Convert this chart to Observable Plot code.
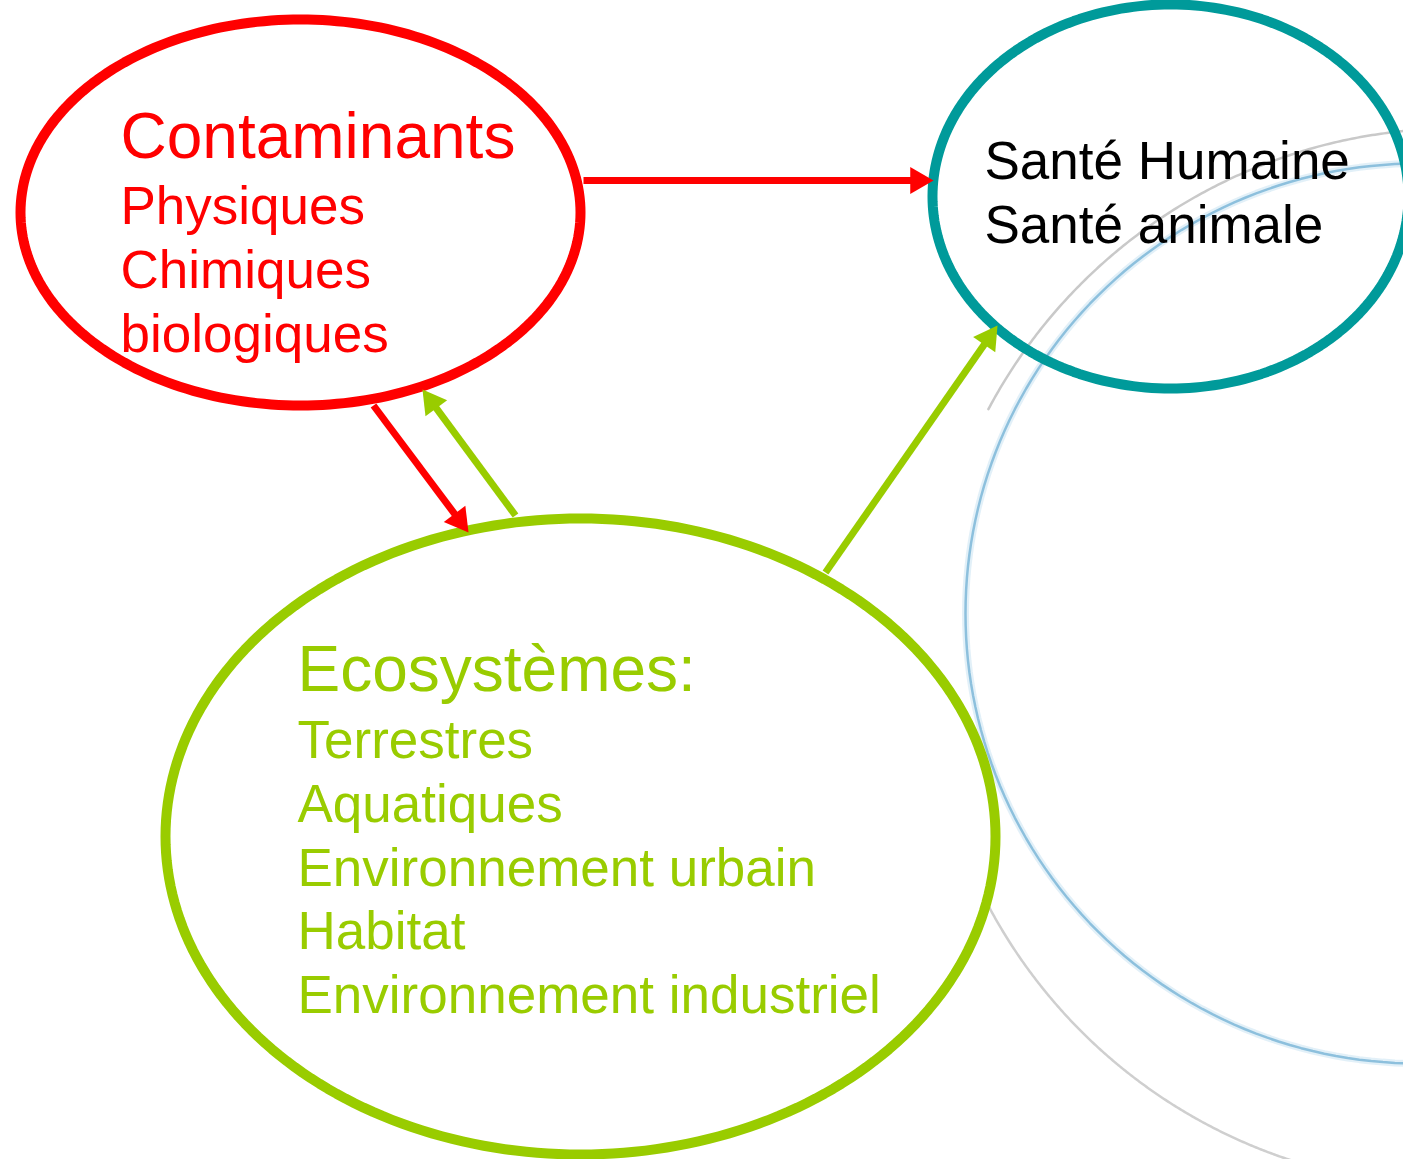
<!DOCTYPE html>
<html>
<head>
<meta charset="utf-8">
<script src="https://cdn.jsdelivr.net/npm/d3@7"></script>
<script src="https://cdn.jsdelivr.net/npm/@observablehq/plot@0.6"></script>
<style>
  html, body { margin: 0; padding: 0; background: #ffffff; }
  #chart svg { display: block; }
</style>
</head>
<body>
<div id="chart"></div>
<script>
// ---- Diagram content ----
const nodeNames   = ["Contaminants", "Santé", "Ecosystèmes"];
const nodeCx      = [300, 1170, 580];
const nodeCy      = [212, 196, 836];
const nodeRx      = [280, 238, 415];
const nodeRy      = [193, 192, 318];
const nodeColors  = ["#ff0000", "#009a9a", "#99cc00"];

const headerTexts  = ["Contaminants", "Ecosystèmes:"];
const headerX      = [120, 297];
const headerY      = [157, 690];
const headerColors = ["#ff0000", "#99cc00"];

const itemTexts  = ["Physiques", "Chimiques", "biologiques",
                    "Santé Humaine", "Santé animale",
                    "Terrestres", "Aquatiques", "Environnement urbain", "Habitat", "Environnement industriel"];
const itemX      = [120, 120, 120, 984, 984, 297, 297, 297, 297, 297];
const itemY      = [223, 287, 351, 178, 242, 757, 821, 885, 948, 1012];
const itemColors = ["#ff0000", "#ff0000", "#ff0000", "#000000", "#000000",
                    "#99cc00", "#99cc00", "#99cc00", "#99cc00", "#99cc00"];

const arrowX1    = [583, 373, 515, 825];
const arrowY1    = [180, 405, 515, 572];
const arrowX2    = [933, 468, 422, 997];
const arrowY2    = [180, 532, 389, 325];
const arrowColors = ["#ff0000", "#ff0000", "#99cc00", "#99cc00"];

// faint decorative background arcs (ellipse params + visible angle ranges in degrees)
const arcNames  = ["blue", "greyTop", "greyBottom"];
const arcCx     = [1418, 1455, 1455];
const arcCy     = [613, 657, 657];
const arcRx     = [453, 529, 529];
const arcRy     = [450, 529, 529];
const arcFrom   = [0, -152, 106];
const arcTo     = [360, -75, 152];
const arcColors = ["#8dc0dd", "#c9c9c9", "#cfcfcf"];

// ---- geometry helpers ----
function ellipsePath(cx, cy, rx, ry, a0, a1, id, color, n = 240) {
  const pts = [];
  for (let i = 0; i <= n; i++) {
    const a = (a0 + (a1 - a0) * i / n) * Math.PI / 180;
    pts.push({x: cx + rx * Math.cos(a), y: cy + ry * Math.sin(a), id, color});
  }
  return pts;
}

const nodeOutlines = nodeNames.flatMap((d, i) =>
  ellipsePath(nodeCx[i], nodeCy[i], nodeRx[i], nodeRy[i], 0, 360, d, nodeColors[i]));
const arcLines = arcNames.flatMap((d, i) =>
  ellipsePath(arcCx[i], arcCy[i], arcRx[i], arcRy[i], arcFrom[i], arcTo[i], d, arcColors[i]));

const headLen = 23, headOffset = 15.5;
const arrows = arrowX1.map((x1, i) => {
  const dx = arrowX2[i] - x1, dy = arrowY2[i] - arrowY1[i];
  const L = Math.hypot(dx, dy), ux = dx / L, uy = dy / L;
  return {
    x1, y1: arrowY1[i],
    sx2: arrowX2[i] - ux * (headLen - 2), sy2: arrowY2[i] - uy * (headLen - 2),
    hx: arrowX2[i] - ux * headOffset, hy: arrowY2[i] - uy * headOffset,
    angle: Math.atan2(dy, dx) * 180 / Math.PI + 90,
    color: arrowColors[i]
  };
});

const headers = headerTexts.map((t, i) => ({t, x: headerX[i], y: headerY[i], color: headerColors[i]}));
const items = itemTexts.map((t, i) => ({t, x: itemX[i], y: itemY[i], color: itemColors[i]}));

const W = 1403, H = 1159;
const font = "'Liberation Sans', Arial, Helvetica, sans-serif";

const chart = Plot.plot({
  width: W,
  height: H,
  margin: 0,
  x: {domain: [0, W], range: [0, W], axis: null},
  y: {domain: [0, H], range: [0, H], axis: null},
  color: {type: "identity"},
  style: {fontFamily: font, background: "#ffffff", overflow: "hidden"},
  marks: [
    // background arcs: soft glow + thin line
    Plot.line(arcLines.filter(d => d.id === "blue"), {x: "x", y: "y", z: "id", stroke: "#cfe6f3", strokeWidth: 7, strokeOpacity: 0.6}),
    Plot.line(arcLines, {x: "x", y: "y", z: "id", stroke: "color", strokeWidth: 2.5}),
    // ellipse outlines
    Plot.line(nodeOutlines, {x: "x", y: "y", z: "id", stroke: "color", strokeWidth: 10, curve: "linear-closed"}),
    // arrow shafts
    Plot.link(arrows, {x1: "x1", y1: "y1", x2: "sx2", y2: "sy2", stroke: "color", strokeWidth: 7}),
    // arrow heads
    Plot.dot(arrows, {x: "hx", y: "hy", symbol: "triangle", r: 10, fill: "color", stroke: null, rotate: "angle"}),
    // texts
    Plot.text(headers, {x: "x", y: "y", text: "t", fill: "color", fontSize: 64, textAnchor: "start", lineAnchor: "bottom", fontFamily: font}),
    Plot.text(items, {x: "x", y: "y", text: "t", fill: "color", fontSize: 53, textAnchor: "start", lineAnchor: "bottom", fontFamily: font})
  ]
});

document.getElementById("chart").appendChild(chart);
</script>
</body>
</html>
